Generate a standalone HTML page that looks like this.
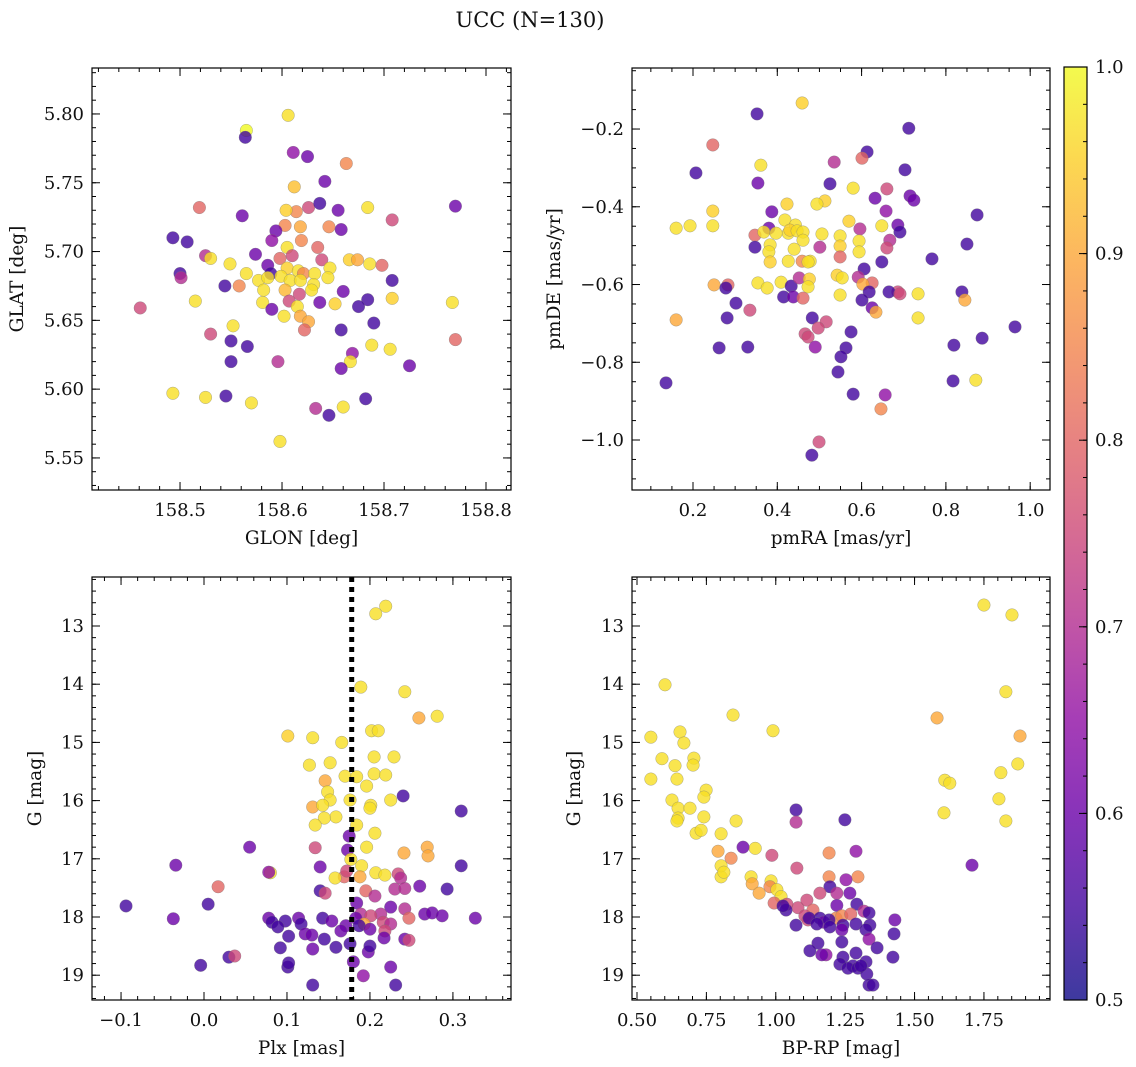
<!DOCTYPE html>
<html><head><meta charset="utf-8"><style>
html,body{margin:0;padding:0;background:#fff;}
svg{display:block;font-family:"DejaVu Serif","Liberation Serif",serif;}
</style></head><body>
<svg id="fig" width="1136" height="1067" viewBox="0 0 1136 1067" xmlns="http://www.w3.org/2000/svg">
<text x="530" y="27" font-size="21" text-anchor="middle" fill="#111">UCC (N=130)</text>
</svg>
<script>
// ---- data: panel 1 (GLON, GLAT, prob)
const glon=[158.565,158.564,158.606,158.611,158.625,158.663,158.642,158.612,158.614,158.604,158.519,158.561,158.626,158.637,158.655,158.684,158.708,158.770,158.603,158.618,158.646,158.658,158.493,158.507,158.594,158.590,158.619,158.605,158.635,158.525,158.530,158.574,158.598,158.610,158.639,158.666,158.674,158.686,158.698,158.500,158.549,158.565,158.586,158.589,158.605,158.616,158.621,158.632,158.647,158.577,158.586,158.599,158.608,158.618,158.645,158.708,158.501,158.461,158.515,158.544,158.558,158.582,158.603,158.617,158.631,158.629,158.660,158.684,158.708,158.767,158.581,158.607,158.590,158.602,158.615,158.637,158.652,158.675,158.618,158.626,158.622,158.552,158.530,158.550,158.566,158.658,158.690,158.706,158.688,158.770,158.596,158.550,158.669,158.667,158.658,158.493,158.525,158.545,158.570,158.633,158.646,158.660,158.682,158.598,158.725];
const glat=[5.788,5.783,5.799,5.772,5.769,5.764,5.751,5.747,5.729,5.730,5.732,5.726,5.732,5.735,5.730,5.732,5.723,5.733,5.719,5.718,5.718,5.716,5.710,5.707,5.715,5.708,5.708,5.703,5.703,5.697,5.695,5.698,5.695,5.697,5.694,5.694,5.694,5.691,5.690,5.684,5.691,5.684,5.690,5.684,5.688,5.686,5.684,5.684,5.688,5.679,5.681,5.682,5.679,5.679,5.681,5.679,5.681,5.659,5.664,5.675,5.675,5.672,5.672,5.669,5.676,5.672,5.671,5.665,5.666,5.663,5.663,5.664,5.658,5.653,5.660,5.663,5.662,5.660,5.653,5.649,5.643,5.646,5.640,5.635,5.631,5.643,5.648,5.629,5.632,5.636,5.620,5.620,5.626,5.620,5.615,5.597,5.594,5.595,5.590,5.586,5.581,5.587,5.593,5.562,5.617];
const prob1=[1.0,0.55,0.97,0.65,0.6,0.85,0.6,0.93,0.85,0.95,0.8,0.6,0.75,0.55,0.6,0.97,0.75,0.6,0.85,0.9,0.85,0.6,0.55,0.55,0.6,0.65,0.85,0.97,0.8,0.7,0.97,0.6,0.8,0.75,0.75,0.95,0.9,0.97,0.8,0.55,0.97,0.97,0.6,0.55,0.95,0.97,0.85,0.97,0.97,0.97,0.97,0.97,0.97,0.97,0.97,0.55,0.7,0.75,0.97,0.55,0.85,0.97,0.92,0.75,0.97,0.97,0.6,0.55,0.95,0.97,0.97,0.75,0.6,0.97,0.97,0.6,0.95,0.55,0.9,0.9,0.8,0.97,0.75,0.55,0.55,0.55,0.55,0.97,0.97,0.8,0.7,0.55,0.65,0.97,0.6,0.97,0.97,0.55,0.97,0.7,0.55,0.97,0.55,0.97,0.6];
// ---- data: panel 2 (pmRA, pmDE, prob)
const pmra=[0.459,0.352,0.247,0.207,0.712,0.361,0.613,0.601,0.535,0.354,0.580,0.525,0.703,0.660,0.715,0.724,0.874,0.632,0.513,0.423,0.494,0.387,0.570,0.658,0.648,0.380,0.418,0.347,0.426,0.443,0.368,0.160,0.193,0.247,0.247,0.430,0.447,0.397,0.461,0.461,0.506,0.549,0.596,0.594,0.686,0.691,0.667,0.660,0.850,0.347,0.383,0.380,0.383,0.426,0.459,0.478,0.473,0.440,0.501,0.549,0.594,0.549,0.606,0.648,0.767,0.283,0.354,0.409,0.433,0.452,0.476,0.542,0.554,0.592,0.625,0.686,0.665,0.603,0.250,0.618,0.473,0.376,0.278,0.549,0.734,0.691,0.838,0.845,0.302,0.415,0.438,0.461,0.601,0.625,0.634,0.335,0.160,0.281,0.483,0.516,0.497,0.734,0.964,0.466,0.575,0.473,0.330,0.262,0.490,0.563,0.819,0.886,0.551,0.544,0.136,0.817,0.871,0.580,0.656,0.646,0.499,0.482];
const pmde=[-0.133,-0.161,-0.241,-0.313,-0.198,-0.293,-0.259,-0.275,-0.285,-0.339,-0.352,-0.341,-0.305,-0.354,-0.372,-0.383,-0.421,-0.378,-0.385,-0.393,-0.393,-0.413,-0.437,-0.411,-0.449,-0.455,-0.434,-0.473,-0.468,-0.447,-0.465,-0.455,-0.449,-0.411,-0.449,-0.46,-0.462,-0.468,-0.465,-0.486,-0.47,-0.475,-0.457,-0.488,-0.447,-0.465,-0.486,-0.506,-0.496,-0.504,-0.498,-0.516,-0.542,-0.540,-0.540,-0.540,-0.542,-0.509,-0.504,-0.501,-0.516,-0.529,-0.560,-0.542,-0.534,-0.601,-0.596,-0.594,-0.604,-0.583,-0.586,-0.576,-0.583,-0.581,-0.596,-0.619,-0.619,-0.599,-0.601,-0.619,-0.606,-0.609,-0.609,-0.627,-0.624,-0.624,-0.619,-0.640,-0.648,-0.632,-0.632,-0.635,-0.640,-0.660,-0.671,-0.666,-0.691,-0.686,-0.686,-0.696,-0.712,-0.686,-0.709,-0.727,-0.722,-0.735,-0.761,-0.763,-0.761,-0.763,-0.756,-0.738,-0.786,-0.825,-0.853,-0.848,-0.846,-0.882,-0.884,-0.920,-1.005,-1.039];
const prob2=[0.95,0.55,0.8,0.55,0.55,0.97,0.55,0.8,0.7,0.6,0.97,0.55,0.55,0.75,0.6,0.6,0.55,0.6,0.95,0.95,0.97,0.6,0.95,0.65,0.97,0.6,0.97,0.8,0.97,0.97,0.97,0.97,0.97,0.95,0.97,0.95,0.97,0.97,0.97,0.97,0.97,0.97,0.7,0.97,0.6,0.55,0.7,0.75,0.55,0.55,0.97,0.97,0.95,0.97,0.85,0.97,0.97,0.97,0.7,0.95,0.97,0.8,0.55,0.55,0.55,0.8,0.97,0.97,0.55,0.7,0.95,0.95,0.97,0.7,0.8,0.75,0.55,0.9,0.9,0.55,0.97,0.97,0.55,0.97,0.97,0.75,0.55,0.9,0.55,0.55,0.6,0.8,0.55,0.6,0.9,0.75,0.9,0.55,0.55,0.75,0.75,0.97,0.55,0.75,0.55,0.75,0.55,0.55,0.65,0.55,0.55,0.55,0.55,0.55,0.55,0.55,0.97,0.55,0.65,0.85,0.75,0.55];
// ---- data: panel 3 (Plx, G, prob)
const plx=[0.219,0.207,0.189,0.242,0.281,0.259,0.101,0.131,0.202,0.210,0.166,0.205,0.229,0.127,0.152,0.170,0.184,0.146,0.205,0.219,0.196,0.149,0.152,0.240,0.176,0.201,0.131,0.143,0.310,0.200,0.225,0.159,0.145,0.134,0.184,0.206,0.175,0.055,0.134,0.196,0.269,0.270,0.241,0.173,0.140,-0.034,0.177,0.190,0.207,0.310,0.080,0.078,0.169,0.188,0.158,0.172,0.218,0.234,0.237,0.230,0.140,0.017,0.242,0.260,0.195,0.146,0.206,0.293,-0.094,0.005,0.184,0.225,0.242,0.189,0.213,0.247,0.201,0.266,0.275,0.327,0.287,-0.037,0.078,0.082,0.098,0.114,0.143,0.154,0.183,0.216,0.193,0.225,0.089,0.117,0.171,0.187,0.165,0.218,0.200,0.122,0.102,0.130,0.145,0.217,0.242,0.247,0.159,0.176,0.092,0.131,0.198,0.200,0.030,0.037,-0.004,0.101,0.102,0.225,0.131,0.231,0.192,0.180];
const gmag3=[12.66,12.79,14.05,14.13,14.55,14.58,14.89,14.92,14.8,14.8,15.0,15.25,15.25,15.39,15.35,15.58,15.59,15.66,15.54,15.56,15.75,15.85,15.99,15.92,15.99,16.08,16.11,16.08,16.18,16.13,15.99,16.28,16.30,16.42,16.42,16.56,16.61,16.80,16.81,16.80,16.80,16.95,16.9,16.85,17.14,17.11,17.01,17.12,17.24,17.12,17.24,17.23,17.31,17.31,17.33,17.21,17.28,17.26,17.33,17.52,17.55,17.48,17.51,17.47,17.55,17.59,17.64,17.52,17.81,17.78,17.76,17.83,17.86,17.95,17.95,18.02,17.98,17.95,17.93,18.02,17.98,18.03,18.02,18.09,18.07,18.02,18.02,18.07,18.02,18.09,18.12,18.12,18.17,18.12,18.15,18.15,18.24,18.24,18.21,18.29,18.33,18.31,18.38,18.36,18.38,18.40,18.52,18.46,18.53,18.55,18.60,18.50,18.69,18.67,18.83,18.86,18.79,18.86,19.17,19.17,19.01,18.77];
const prob3=[0.97,0.97,0.97,0.97,0.97,0.9,0.95,0.97,0.97,0.97,0.97,0.97,0.97,0.97,0.97,0.97,0.97,0.9,0.97,0.97,0.97,0.97,0.97,0.55,0.97,0.97,0.9,0.97,0.55,0.97,0.97,0.97,0.97,0.97,0.97,0.97,0.6,0.6,0.75,0.97,0.9,0.9,0.9,0.6,0.6,0.6,0.97,0.97,0.97,0.55,0.97,0.65,0.8,0.9,0.97,0.75,0.97,0.75,0.7,0.7,0.55,0.8,0.7,0.6,0.8,0.75,0.7,0.55,0.55,0.55,0.6,0.6,0.7,0.7,0.7,0.8,0.75,0.6,0.6,0.6,0.6,0.6,0.6,0.55,0.55,0.6,0.55,0.6,0.6,0.75,0.9,0.7,0.55,0.55,0.6,0.55,0.6,0.75,0.6,0.6,0.55,0.6,0.55,0.6,0.6,0.75,0.55,0.55,0.55,0.6,0.6,0.55,0.55,0.75,0.55,0.55,0.55,0.6,0.55,0.55,0.65,0.6];
// ---- data: panel 4 (BP-RP, G, prob)
const bprp=[1.851,1.750,0.601,1.829,0.846,1.581,1.880,0.990,0.550,0.655,0.590,0.669,0.705,0.702,1.811,1.872,0.637,0.550,0.644,0.749,0.741,1.609,1.627,0.626,1.606,1.804,0.648,0.691,1.073,0.648,0.644,0.857,1.829,0.741,1.073,0.713,0.731,0.926,0.803,1.249,1.289,0.882,1.707,1.192,0.792,0.839,0.986,0.803,0.803,0.813,0.911,1.076,0.983,0.915,0.979,0.940,1.004,1.019,1.192,1.195,1.296,1.220,1.253,1.159,1.267,1.080,0.994,1.040,1.112,1.037,1.134,1.292,1.220,1.318,1.105,1.116,1.159,1.173,1.217,1.238,1.270,1.336,1.429,1.120,1.192,1.148,1.195,1.242,1.289,1.339,1.073,1.325,1.238,1.426,1.026,1.336,1.152,1.238,1.365,1.123,1.181,1.166,1.289,1.242,1.422,1.325,1.231,1.278,1.260,1.296,1.328,1.307,1.336,1.350];
const gmag4=[12.81,12.64,14.01,14.13,14.53,14.58,14.89,14.80,14.91,14.82,15.28,15.01,15.27,15.39,15.52,15.37,15.40,15.63,15.63,15.82,15.94,15.65,15.70,15.99,16.21,15.97,16.13,16.13,16.16,16.30,16.35,16.35,16.35,16.28,16.37,16.56,16.51,16.82,16.57,16.33,16.87,16.80,17.11,16.90,16.87,16.99,16.94,17.31,17.12,17.23,17.31,17.16,17.38,17.43,17.48,17.59,17.53,17.65,17.31,17.48,17.31,17.59,17.36,17.59,17.59,17.84,17.76,17.78,17.71,17.88,17.88,17.78,17.80,17.90,17.98,18.05,18.02,18.09,18.02,17.98,17.95,17.93,18.05,18.02,18.05,18.12,18.17,18.14,18.12,18.14,18.14,18.22,18.22,18.29,17.81,18.38,18.45,18.43,18.53,18.58,18.65,18.65,18.62,18.69,18.69,18.77,18.81,18.84,18.88,18.88,18.98,18.84,19.17,19.17];
const prob4=[0.97,0.97,0.97,0.97,0.97,0.9,0.9,0.97,0.97,0.97,0.97,0.97,0.97,0.97,0.97,0.97,0.97,0.97,0.97,0.97,0.97,0.97,0.97,0.97,0.97,0.97,0.97,0.97,0.55,0.97,0.97,0.97,0.97,0.97,0.7,0.97,0.97,0.97,0.97,0.55,0.65,0.6,0.6,0.85,0.9,0.85,0.75,0.97,0.97,0.97,0.97,0.75,0.97,0.9,0.85,0.9,0.97,0.97,0.85,0.55,0.85,0.7,0.65,0.75,0.6,0.75,0.8,0.75,0.75,0.55,0.8,0.55,0.6,0.7,0.75,0.75,0.55,0.6,0.85,0.85,0.8,0.55,0.6,0.55,0.55,0.55,0.55,0.55,0.55,0.55,0.55,0.55,0.6,0.55,0.55,0.65,0.55,0.55,0.55,0.55,0.65,0.6,0.55,0.55,0.55,0.55,0.55,0.55,0.55,0.55,0.55,0.55,0.55,0.55];
const plxCut=0.178;
const gTicks=[13,14,15,16,17,18,19];
const cbTicks=[0.5,0.6,0.7,0.8,0.9,1.0];

const NS="http://www.w3.org/2000/svg";
const svg=document.getElementById('fig');
function mk(tag,attrs,parent){const e=document.createElementNS(NS,tag);for(const k in attrs)e.setAttribute(k,attrs[k]);(parent||svg).appendChild(e);return e;}
const PL=[[13,8,135],[65,4,157],[106,0,168],[143,13,164],[177,42,144],[204,71,120],[225,100,98],[242,132,75],[252,166,54],[252,206,37],[240,249,33]];
function plasma(t){t=Math.max(0,Math.min(1,t))*10;const i=Math.min(9,Math.floor(t)),f=t-i;const a=PL[i],b=PL[i+1];return 'rgb('+[0,1,2].map(k=>Math.round(a[k]+(b[k]-a[k])*f)).join(',')+')';}
function cmap(v){return plasma((v-0.5)/0.5);}
function fmt(v,d){const s=Math.abs(v).toFixed(d);return (v<-1e-9?'\u2212':'')+s;}

function panel(o){
  const g=mk('g',{});
  
  
  const sx=v=>o.x0+(v-o.xmin)/(o.xmax-o.xmin)*(o.x1-o.x0);
  const sy=o.inv?(v=>o.y0+(v-o.ymin)/(o.ymax-o.ymin)*(o.y1-o.y0)):(v=>o.y0+(o.ymax-v)/(o.ymax-o.ymin)*(o.y1-o.y0));
  const clip='c'+o.name;
  const cp=mk('clipPath',{id:clip},g);mk('rect',{x:o.x0,y:o.y0,width:o.x1-o.x0,height:o.y1-o.y0},cp);
  const pts=mk('g',{'clip-path':'url(#'+clip+')'},g);
  
  
  for(let i=0;i<o.xs.length;i++){
    const c=mk('circle',{cx:sx(o.xs[i]),cy:sy(o.ys[i]),r:6.3,fill:cmap(o.cs[i]),'fill-opacity':0.8,stroke:'#777','stroke-width':0.5,'stroke-opacity':0.6},pts);
    
    
  }
  if(o.vline!==undefined){
    const l=mk('line',{x1:sx(o.vline),x2:sx(o.vline),y1:o.y0,y2:o.y1,stroke:'#000','stroke-width':5,'stroke-dasharray':'5,5'},g);
    
    
  }
  const fr=mk('rect',{x:o.x0,y:o.y0,width:o.x1-o.x0,height:o.y1-o.y0,fill:'none',stroke:'#000','stroke-width':1.2},g);
  
  
  const tk=mk('g',{stroke:'#000','stroke-width':1},g);
  const eps=1e-9;
  for(let v=Math.ceil(o.xmin/o.xmi)*o.xmi;v<=o.xmax+eps;v+=o.xmi){const x=sx(v);mk('line',{x1:x,x2:x,y1:o.y1,y2:o.y1-4},tk);mk('line',{x1:x,x2:x,y1:o.y0,y2:o.y0+4},tk);}
  for(let v=Math.ceil(o.ymin/o.ymi)*o.ymi;v<=o.ymax+eps;v+=o.ymi){const y=sy(v);mk('line',{x1:o.x0,x2:o.x0+4,y1:y,y2:y},tk);mk('line',{x1:o.x1,x2:o.x1-4,y1:y,y2:y},tk);}
  o.xt.forEach(v=>{const x=sx(v);mk('line',{x1:x,x2:x,y1:o.y1,y2:o.y1-8},tk);mk('line',{x1:x,x2:x,y1:o.y0,y2:o.y0+8},tk);
    const t=mk('text',{x:x,y:o.y1+26,'font-size':18,'text-anchor':'middle',fill:'#111'},g);t.textContent=fmt(v,o.xd);
    });
  o.yt.forEach(v=>{const y=sy(v);mk('line',{x1:o.x0,x2:o.x0+8,y1:y,y2:y},tk);mk('line',{x1:o.x1,x2:o.x1-8,y1:y,y2:y},tk);
    const t=mk('text',{x:o.x0-8,y:y+6,'font-size':18,'text-anchor':'end',fill:'#111'},g);t.textContent=fmt(v,o.yd);
    });
  const xl=mk('text',{x:(o.x0+o.x1)/2,y:o.y1+54,'font-size':18.5,'text-anchor':'middle',fill:'#111'},g);xl.textContent=o.xl;
  
  const yl=mk('text',{x:0,y:0,'font-size':18.5,'text-anchor':'middle',fill:'#111',transform:'translate('+o.ylx+','+(o.y0+o.y1)/2+') rotate(-90)'},g);yl.textContent=o.yl;
  
}
panel({name:'glon-glat-panel',xs:glon,ys:glat,cs:prob1,x0:92,x1:511,y0:68,y1:490,xmin:158.4137,xmax:158.8245,ymin:5.5267,ymax:5.8334,xt:[158.5,158.6,158.7,158.8],yt:[5.55,5.60,5.65,5.70,5.75,5.80],xd:1,yd:2,xmi:0.02,ymi:0.01,xl:'GLON [deg]',yl:'GLAT [deg]',ylx:23});
panel({name:'proper-motion-panel',xs:pmra,ys:pmde,cs:prob2,x0:632,x1:1050,y0:68,y1:490,xmin:0.0553,xmax:1.047,ymin:-1.1286,ymax:-0.043,xt:[0.2,0.4,0.6,0.8,1.0],yt:[-1.0,-0.8,-0.6,-0.4,-0.2],xd:1,yd:1,xmi:0.05,ymi:0.05,xl:'pmRA [mas/yr]',yl:'pmDE [mas/yr]',ylx:560});
panel({name:'plx-g-panel',xs:plx,ys:gmag3,cs:prob3,x0:92,x1:511,y0:577,y1:1000,xmin:-0.135,xmax:0.370,ymin:12.158,ymax:19.426,inv:true,xt:[-0.1,0.0,0.1,0.2,0.3],yt:gTicks,xd:1,yd:0,xmi:0.02,ymi:0.2,xl:'Plx [mas]',yl:'G [mag]',ylx:41,vline:plxCut});
panel({name:'cmd-panel',xs:bprp,ys:gmag4,cs:prob4,x0:632,x1:1050,y0:577,y1:1000,xmin:0.482,xmax:1.988,ymin:12.158,ymax:19.426,inv:true,xt:[0.5,0.75,1.0,1.25,1.5,1.75],yt:gTicks,xd:2,yd:0,xmi:0.05,ymi:0.2,xl:'BP-RP [mag]',yl:'G [mag]',ylx:580});

// ---- colorbar
(function(){
  const x0=1064,x1=1087,y0=67,y1=1000,vmin=0.5,vmax=1.0;
  const g=mk('g',{});
  
  
  const defs=mk('defs',{},g);
  const lg=mk('linearGradient',{id:'cbgrad',x1:0,y1:1,x2:0,y2:0},defs);
  for(let i=0;i<=20;i++){mk('stop',{offset:(i/20),'stop-color':plasma(i/20),'stop-opacity':0.8},lg);}
  mk('rect',{x:x0,y:y0,width:x1-x0,height:y1-y0,fill:'url(#cbgrad)'},g);
  mk('rect',{x:x0,y:y0,width:x1-x0,height:y1-y0,fill:'none',stroke:'#000','stroke-width':1.2},g);
  const sy=v=>y1-(v-vmin)/(vmax-vmin)*(y1-y0);
  for(let v=vmin;v<=vmax+1e-9;v+=0.02){mk('line',{x1:x1,x2:x1-4,y1:sy(v),y2:sy(v),stroke:'#000','stroke-width':1},g);}
  cbTicks.forEach(v=>{
    mk('line',{x1:x1,x2:x1-8,y1:sy(v),y2:sy(v),stroke:'#000','stroke-width':1},g);
    const t=mk('text',{x:x1+8,y:sy(v)+6,'font-size':18,fill:'#111'},g);
    t.textContent=v.toFixed(1);
    
    
  });
})();
</script>
</body></html>
